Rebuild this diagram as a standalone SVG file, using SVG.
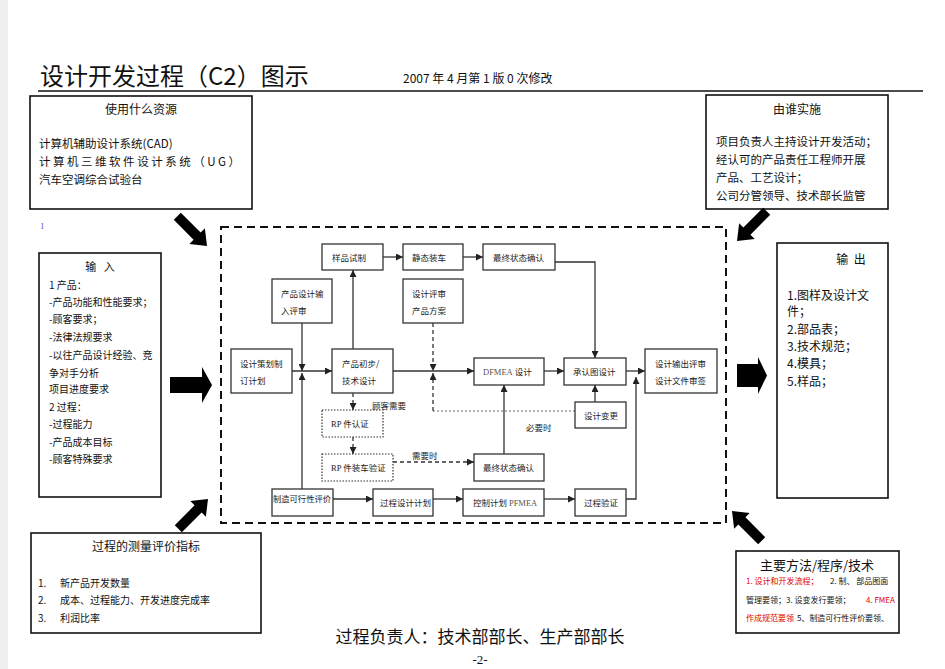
<svg xmlns="http://www.w3.org/2000/svg" width="945" height="669" viewBox="0 0 945 669">
<style>
text{font-family:"Noto Sans CJK SC","Noto Sans",sans-serif;fill:#111}
.box{fill:#fff;stroke:#111;stroke-width:1.6}
.ib{fill:#fff;stroke:#333;stroke-width:1.3}
.db{fill:#fff;stroke:#333;stroke-width:1.2;stroke-dasharray:1.5 1.5}
.t{font-size:8.5px;fill:#222}
.ln{fill:none;stroke:#333;stroke-width:1.3}
.dl{fill:none;stroke:#333;stroke-width:1.3;stroke-dasharray:4 3}
.in{font-size:10px}
.big{fill:#000}
.red{fill:#e00000}
.sm{font-size:8px}
</style>
<defs>
<marker id="ah" viewBox="0 0 10 10" refX="10" refY="5" markerWidth="8" markerHeight="7" markerUnits="userSpaceOnUse" orient="auto">
<path d="M0,0 L10,5 L0,10 z" fill="#222"/>
</marker>
<polygon id="fat" points="0,0 -14,-11 -14,-5 -42,-5 -42,5 -14,5 -14,11"/>
</defs>
<rect x="0" y="0" width="945" height="669" fill="#fff"/>
<rect x="0" y="0" width="8" height="669" fill="#f0f0f0"/>

<g id="header">
<text x="40" y="85" font-size="24">设计开发过程（C2）图示</text>
<text x="403" y="83" font-size="12">2007 年 4 月第 1 版 0 次修改</text>
<line x1="38" y1="91" x2="923" y2="91" stroke="#111" stroke-width="1.5"/>
<text x="40" y="229" font-size="9" style="font-family:'Liberation Serif',serif;fill:#5060c0">1</text>
</g>

<g id="resources">
<rect class="box" x="30" y="96" width="222" height="113"/>
<text x="141" y="114" font-size="12" text-anchor="middle">使用什么资源</text>
<text x="39" y="148" font-size="11.5">计算机辅助设计系统(CAD)</text>
<text x="39" y="166" font-size="11.5" textLength="201" lengthAdjust="spacing">计算机三维软件设计系统（UG）</text>
<text x="39" y="184" font-size="11.5">汽车空调综合试验台</text>
</g>

<g id="who">
<rect class="box" x="706" y="95" width="182" height="114"/>
<text x="797" y="114" font-size="12" text-anchor="middle">由谁实施</text>
<text x="716" y="146" font-size="11.5">项目负责人主持设计开发活动；</text>
<text x="716" y="164" font-size="11.5">经认可的产品责任工程师开展</text>
<text x="716" y="182" font-size="11.5">产品、工艺设计；</text>
<text x="716" y="200" font-size="11.5">公司分管领导、技术部长监管</text>
</g>

<g id="input">
<rect class="box" x="39" y="253" width="122" height="244"/>
<text x="100" y="271" font-size="11" text-anchor="middle" xml:space="preserve">输   入</text>
<text class="in" x="49" y="289">1 产品：</text>
<text class="in" x="49" y="306">-产品功能和性能要求；</text>
<text class="in" x="49" y="323">-顾客要求；</text>
<text class="in" x="49" y="341">-法律法规要求</text>
<text class="in" x="49" y="359">-以往产品设计经验、竞</text>
<text class="in" x="49" y="377">争对手分析</text>
<text class="in" x="49" y="393">项目进度要求</text>
<text class="in" x="49" y="411">2 过程：</text>
<text class="in" x="49" y="428">-过程能力</text>
<text class="in" x="49" y="446">-产品成本目标</text>
<text class="in" x="49" y="463">-顾客特殊要求</text>
</g>

<g id="output">
<rect class="box" x="777" y="243" width="111" height="255"/>
<text x="851" y="264" font-size="12" text-anchor="middle" xml:space="preserve">输  出</text>
<text x="787" y="300" font-size="12">1.图样及设计文</text>
<text x="787" y="316" font-size="12">件；</text>
<text x="787" y="334" font-size="12">2.部品表；</text>
<text x="787" y="351" font-size="12">3.技术规范；</text>
<text x="787" y="368" font-size="12">4.模具；</text>
<text x="787" y="386" font-size="12">5.样品；</text>
</g>

<g id="measure">
<rect class="box" x="31" y="533" width="230" height="100"/>
<text x="146" y="551" font-size="12" text-anchor="middle">过程的测量评价指标</text>
<text x="38" y="587" font-size="10">1.</text><text x="60" y="587" font-size="10">新产品开发数量</text>
<text x="38" y="604" font-size="10">2.</text><text x="60" y="604" font-size="10">成本、过程能力、开发进度完成率</text>
<text x="38" y="622" font-size="10">3.</text><text x="60" y="622" font-size="10">利润比率</text>
</g>

<g id="methods">
<rect class="box" x="736" y="551" width="163" height="82"/>
<text x="817" y="570" font-size="13" text-anchor="middle">主要方法/程序/技术</text>
<text class="sm red" x="746" y="584">1. 设计和开发流程；</text>
<text class="sm" x="830" y="584">2. 制、 部品图面</text>
<text class="sm" x="746" y="603">管理要领；3. 设变发行要领；</text>
<text class="sm red" x="866" y="603">4. FMEA</text>
<text class="sm red" x="746" y="621">作成规范要领</text>
<text class="sm" x="797" y="621" textLength="92" lengthAdjust="spacingAndGlyphs">5、制造可行性评价要领、</text>
</g>

<g id="footer">
<text x="480" y="643" font-size="17" text-anchor="middle">过程负责人：技术部部长、生产部部长</text>
<text x="480" y="664" font-size="13" text-anchor="middle" style="font-family:'Liberation Serif',serif">-2-</text>
</g>

<g id="big-arrows" class="big">
<polygon points="170,377 202,377 202,367 212,385 202,403 202,393 170,393"/>
<polygon points="737,364 758,364 758,357 767,375.5 758,394 758,387 737,387"/>
<use href="#fat" transform="translate(207,246) rotate(45)"/>
<use href="#fat" transform="translate(737,241) rotate(135)"/>
<use href="#fat" transform="translate(208,499) rotate(-45)"/>
<use href="#fat" transform="translate(732,511) rotate(-135)"/>
</g>

<rect id="frame" x="221" y="227" width="505" height="296" fill="none" stroke="#111" stroke-width="2" stroke-dasharray="8 5"/>

<g id="connectors">
<path class="ln" d="M383,257 H403" marker-end="url(#ah)"/>
<path class="ln" d="M463,257 H483" marker-end="url(#ah)"/>
<path class="ln" d="M555,262 H595 V358" marker-end="url(#ah)"/>
<path class="ln" d="M353,349 V270" marker-end="url(#ah)"/>
<path class="ln" d="M302,323 V371" marker-end="url(#ah)"/>
<path class="ln" d="M302,489 V373" marker-end="url(#ah)"/>
<path class="ln" d="M292,371 H332" marker-end="url(#ah)"/>
<path class="ln" d="M393,371 H474" marker-end="url(#ah)"/>
<path class="ln" d="M544,371 H564" marker-end="url(#ah)"/>
<path class="ln" d="M626,371 H645" marker-end="url(#ah)"/>
<path class="ln" d="M595,402 V385" marker-end="url(#ah)"/>
<path class="ln" d="M626,499 H636 V377" marker-end="url(#ah)"/>
<path class="ln" d="M504,454 V385" marker-end="url(#ah)"/>
<path class="dl" d="M433,323 V371" marker-end="url(#ah)"/>
<path fill="none" stroke="#555" stroke-width="0.9" stroke-dasharray="2 2" d="M575,411 H433"/>
<path class="dl" d="M433,411 V373" marker-end="url(#ah)"/>
<path class="dl" d="M353,393 V410" marker-end="url(#ah)"/>
<path class="dl" d="M353,437 V454" marker-end="url(#ah)"/>
<path class="dl" d="M393,462 H474" marker-end="url(#ah)"/>
<path class="ln" d="M333,499 H373" marker-end="url(#ah)"/>
<path class="ln" d="M433,499 H463" marker-end="url(#ah)"/>
<path class="ln" d="M544,499 H575" marker-end="url(#ah)"/>
<text class="t" x="372" y="409">顾客需要</text>
<text class="t" x="412" y="459">需要时</text>
<text class="t" x="526" y="431">必要时</text>
</g>

<g id="n-yangpin"><rect class="ib" x="322" y="244" width="61" height="26"/><text class="t" x="332" y="261">样品试制</text></g>
<g id="n-jingtai"><rect class="ib" x="403" y="244" width="60" height="26"/><text class="t" x="412" y="261">静态装车</text></g>
<g id="n-zuizhong1"><rect class="ib" x="483" y="244" width="72" height="26"/><text class="t" x="493" y="261">最终状态确认</text></g>
<g id="n-shuru"><rect class="ib" x="272" y="279" width="60" height="44"/><text class="t" x="281" y="297">产品设计输</text><text class="t" x="281" y="314">入评审</text></g>
<g id="n-pingshen"><rect class="ib" x="403" y="279" width="60" height="44"/><text class="t" x="412" y="297">设计评审</text><text class="t" x="412" y="314">产品方案</text></g>
<g id="n-cehua"><rect class="ib" x="231" y="349" width="61" height="44"/><text class="t" x="240" y="367">设计策划制</text><text class="t" x="240" y="384">订计划</text></g>
<g id="n-chubu"><rect class="ib" x="332" y="349" width="61" height="44"/><text class="t" x="342" y="367">产品初步/</text><text class="t" x="342" y="384">技术设计</text></g>
<g id="n-dfmea"><rect class="ib" x="474" y="358" width="70" height="27"/><text class="t" x="483" y="375"><tspan style="font-family:'Liberation Serif',serif;fill:#555">DFMEA</tspan> 设计</text></g>
<g id="n-chengren"><rect class="ib" x="564" y="358" width="62" height="27"/><text class="t" x="573" y="375">承认图设计</text></g>
<g id="n-shuchu"><rect class="ib" x="645" y="349" width="72" height="44"/><text class="t" x="655" y="367">设计输出评审</text><text class="t" x="655" y="384">设计文件审签</text></g>
<g id="n-biangeng"><rect class="ib" x="575" y="402" width="51" height="26"/><text class="t" x="584" y="419">设计变更</text></g>
<g id="n-rp1"><rect class="db" x="322" y="410" width="61" height="27"/><text class="t" x="331" y="427"><tspan style="font-family:'Liberation Serif',serif">RP</tspan> 件认证</text></g>
<g id="n-rp2"><rect class="db" x="322" y="454" width="71" height="27"/><text class="t" x="331" y="471"><tspan style="font-family:'Liberation Serif',serif">RP</tspan> 件装车验证</text></g>
<g id="n-zuizhong2"><rect class="ib" x="474" y="454" width="70" height="27"/><text class="t" x="483" y="471">最终状态确认</text></g>
<g id="n-zhizao"><rect class="ib" x="272" y="489" width="61" height="27"/><text class="t" x="273" y="502" textLength="58" lengthAdjust="spacingAndGlyphs">制造可行性评价</text></g>
<g id="n-guocheng"><rect class="ib" x="373" y="489" width="60" height="27"/><text class="t" x="380" y="506">过程设计计划</text></g>
<g id="n-kongzhi"><rect class="ib" x="463" y="489" width="81" height="27"/><text class="t" x="473" y="506">控制计划 <tspan style="font-family:'Liberation Serif',serif;fill:#555">PFMEA</tspan></text></g>
<g id="n-yanzheng"><rect class="ib" x="575" y="489" width="51" height="27"/><text class="t" x="584" y="506">过程验证</text></g>
</svg>
